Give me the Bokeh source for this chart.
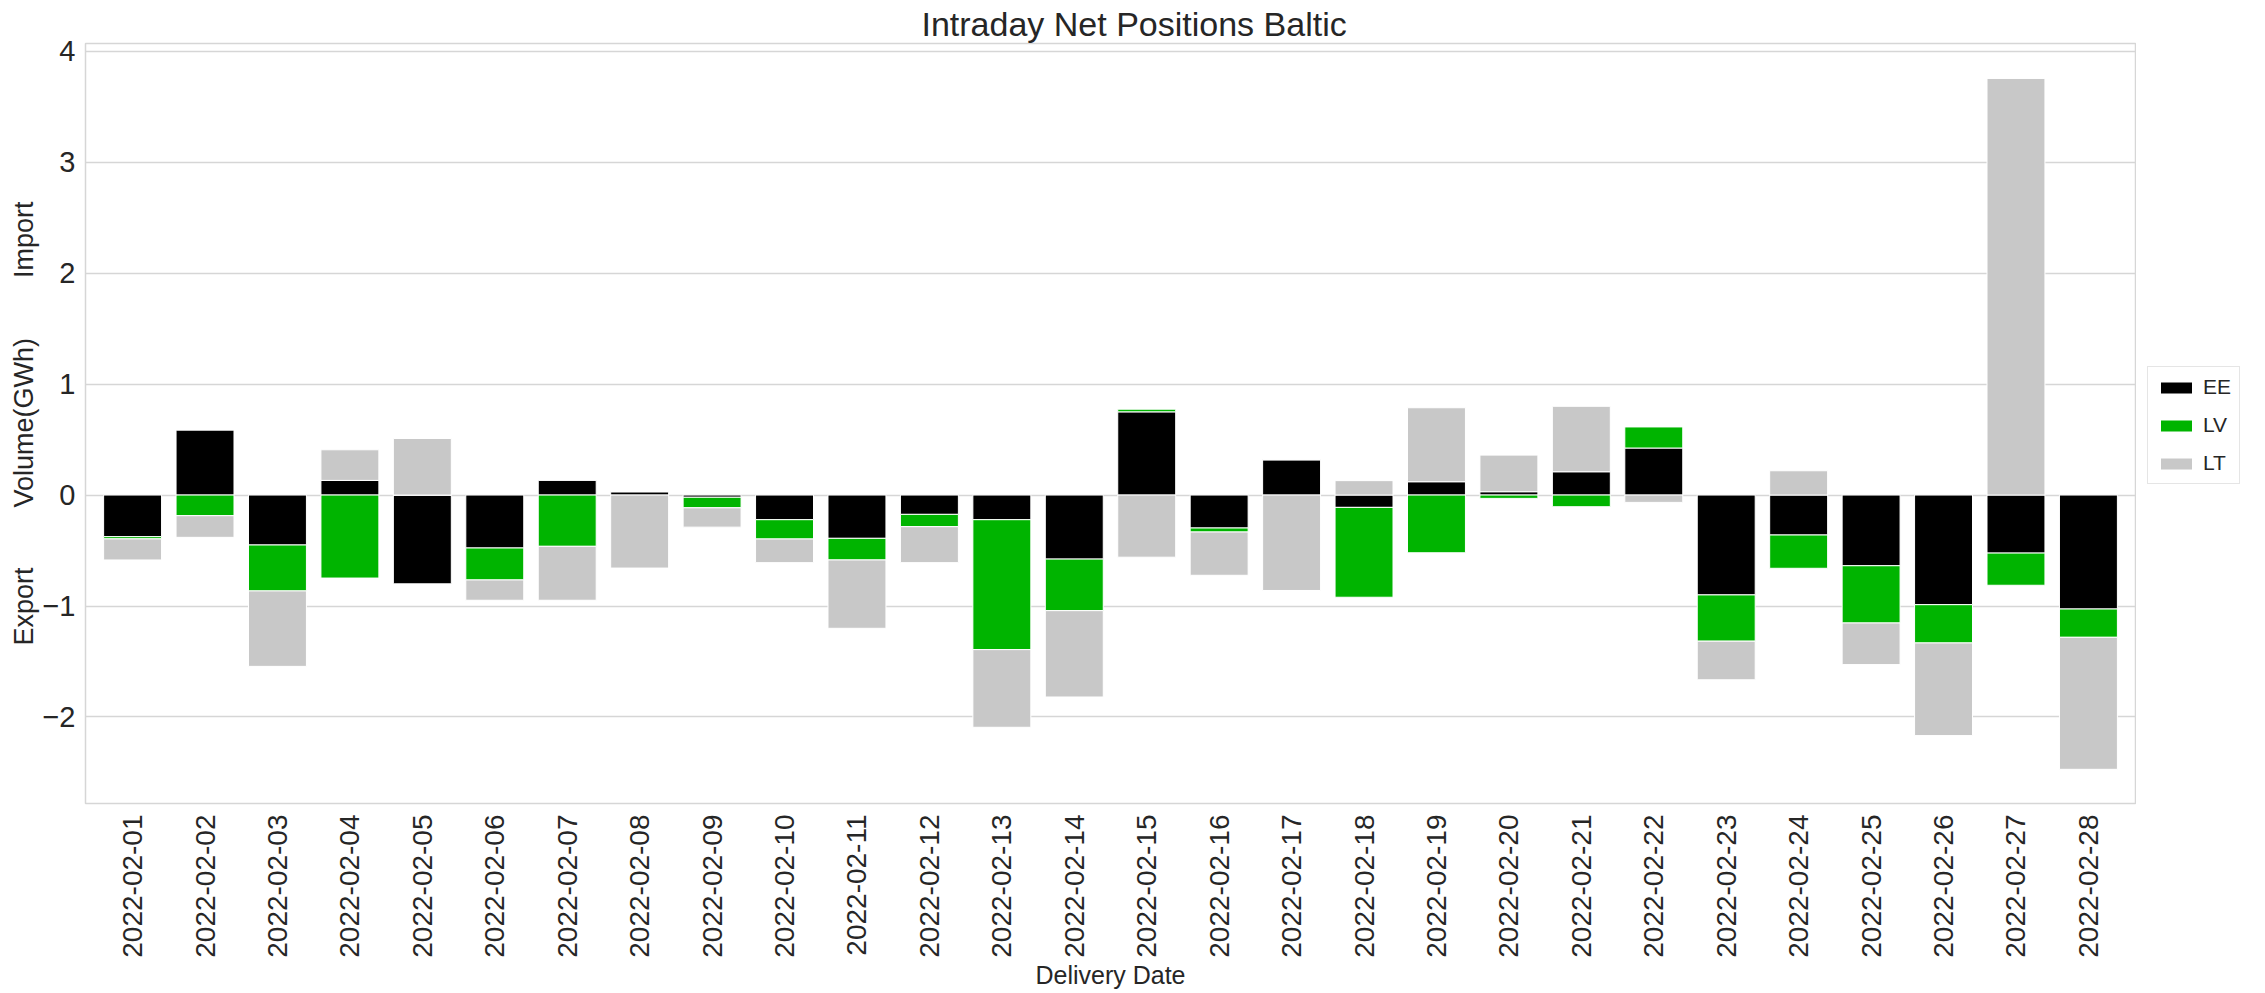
import math
from bokeh.plotting import figure
from bokeh.layouts import row
from bokeh.models import ColumnDataSource, FactorRange, Range1d, FixedTicker, Legend
from bokeh.embed import file_html
from bokeh.resources import INLINE

# ---------------- data ----------------
dates = ["2022-02-01", "2022-02-02", "2022-02-03", "2022-02-04", "2022-02-05", "2022-02-06", "2022-02-07",
         "2022-02-08", "2022-02-09", "2022-02-10", "2022-02-11", "2022-02-12", "2022-02-13", "2022-02-14",
         "2022-02-15", "2022-02-16", "2022-02-17", "2022-02-18", "2022-02-19", "2022-02-20", "2022-02-21",
         "2022-02-22", "2022-02-23", "2022-02-24", "2022-02-25", "2022-02-26", "2022-02-27", "2022-02-28"]

EE = [-0.375, 0.585, -0.45, 0.132, -0.80, -0.477, 0.132, 0.03, -0.02, -0.222, -0.39, -0.174, -0.222, -0.577,
      0.75, -0.297, 0.318, -0.111, 0.12, 0.03, 0.21, 0.424, -0.90, -0.36, -0.637, -0.988, -0.523, -1.027]
LV = [-0.02, -0.186, -0.414, -0.748, 0.0, -0.288, -0.462, 0.0, -0.095, -0.174, -0.195, -0.111, -1.171, -0.465,
      0.024, -0.036, 0.0, -0.81, -0.52, -0.03, -0.105, 0.19, -0.417, -0.30, -0.516, -0.345, -0.29, -0.255]
LT = [-0.19, -0.195, -0.68, 0.276, 0.51, -0.183, -0.486, -0.658, -0.174, -0.213, -0.616, -0.324, -0.70, -0.778,
      -0.56, -0.39, -0.86, 0.13, 0.667, 0.33, 0.59, -0.066, -0.348, 0.219, -0.375, -0.835, 3.755, -1.19]

series_names = ["EE", "LV", "LT"]
series_colors = ["#000000", "#00b400", "#c8c8c8"]
y_ticks = [-2, -1, 0, 1, 2, 3, 4]

title_text = "Intraday Net Positions Baltic"
x_label = "Delivery Date"
NB = "\u00a0" * 8
y_label = "Export" + NB + "Volume(GWh)" + NB + "Import"

FONT = "Liberation Sans"
TXT = "#262626"
GRID = "#d6d6d6"

# ---------------- main figure ----------------
p = figure(width=2136, height=993, output_backend="svg", toolbar_location=None,
           x_range=FactorRange(factors=dates, range_padding=0.15, range_padding_units="absolute"),
           y_range=Range1d(-2.78, 4.07))
p.min_border_left = 85
p.min_border_right = 1
p.min_border_top = 43
p.min_border_bottom = 190
p.background_fill_color = "white"
p.border_fill_color = "white"
p.outline_line_color = GRID
p.outline_line_width = 1.5

# title centred on the whole page (frame starts at x=85)
p.title.text = title_text
p.title.align = "left"
p.title.offset = 836
p.title.text_font = FONT
p.title.text_font_size = "34px"
p.title.text_font_style = "normal"
p.title.text_color = TXT
p.title.standoff = 2

# stacked bars (positives and negatives stacked separately)
n = len(dates)
pos = [0.0] * n
neg = [0.0] * n
sources = []
for name, vals, color in zip(series_names, [EE, LV, LT], series_colors):
    bottoms, tops = [], []
    for i, v in enumerate(vals):
        if v >= 0:
            b = pos[i]; t = b + v; pos[i] = t
        else:
            b = neg[i]; t = b + v; neg[i] = t
        bottoms.append(b); tops.append(t)
    src = ColumnDataSource(dict(date=dates, bottom=bottoms, top=tops))
    sources.append(src)
    p.vbar(x="date", width=0.8, bottom="bottom", top="top", source=src,
           fill_color=color, line_color="white", line_width=1)

# axes
p.yaxis.ticker = FixedTicker(ticks=y_ticks)
p.yaxis.major_label_overrides = {t: (("\u2212" + str(-t)) if t < 0 else str(t)) for t in y_ticks}
p.yaxis.major_label_text_font = FONT
p.yaxis.major_label_text_font_size = "29px"
p.yaxis.major_label_text_color = TXT
p.yaxis.major_label_standoff = 10
p.yaxis.axis_line_color = None
p.yaxis.major_tick_line_color = None
p.yaxis.minor_tick_line_color = None
p.yaxis.major_tick_out = 0
p.yaxis.major_tick_in = 0
p.yaxis.minor_tick_out = 0
p.yaxis.minor_tick_in = 0
p.yaxis.axis_label = y_label
p.yaxis.axis_label_text_font = FONT
p.yaxis.axis_label_text_font_size = "27px"
p.yaxis.axis_label_text_font_style = "normal"
p.yaxis.axis_label_text_color = TXT
p.yaxis.axis_label_standoff = 0

p.xaxis.major_label_orientation = math.pi / 2
p.xaxis.major_label_text_font = FONT
p.xaxis.major_label_text_font_size = "28px"
p.xaxis.major_label_text_color = TXT
p.xaxis.major_label_standoff = 11
p.xaxis.axis_line_color = None
p.xaxis.major_tick_line_color = None
p.xaxis.minor_tick_line_color = None
p.xaxis.major_tick_out = 0
p.xaxis.major_tick_in = 0
p.xaxis.minor_tick_out = 0
p.xaxis.minor_tick_in = 0
p.xaxis.axis_label = x_label
p.xaxis.axis_label_text_font = FONT
p.xaxis.axis_label_text_font_size = "25px"
p.xaxis.axis_label_text_font_style = "normal"
p.xaxis.axis_label_text_color = TXT
p.xaxis.axis_label_standoff = 0

p.xgrid.grid_line_color = None
p.ygrid.grid_line_color = GRID
p.ygrid.grid_line_width = 1.5

# ---------------- legend panel (right of the plot) ----------------
# hidden renderers on the same series sources: only the legend swatches are shown
pl = figure(width=129, height=993, output_backend="svg", toolbar_location=None,
            x_axis_location=None, y_axis_location=None, title=None,
            x_range=FactorRange(factors=dates), y_range=Range1d(-2.78, 4.07))
pl.min_border_left = 0
pl.min_border_right = 0
pl.min_border_top = 43
pl.min_border_bottom = 190
pl.outline_line_color = None
pl.background_fill_color = "white"
pl.border_fill_color = "white"
pl.xgrid.visible = False
pl.ygrid.visible = False

items = []
for name, color, src in zip(series_names, series_colors, sources):
    r = pl.vbar(x="date", width=0.8, bottom="bottom", top="top", source=src,
                fill_color=color, line_color="white", line_width=1, visible=False)
    items.append((name, [r]))

lg = Legend(items=items, location=(11, 319), orientation="vertical")
lg.border_line_color = "#cccccc"
lg.border_line_width = 1.5
lg.background_fill_color = "white"
lg.background_fill_alpha = 1.0
lg.inactive_fill_alpha = 0.0
lg.label_text_font = FONT
lg.label_text_font_size = "21px"
lg.label_text_color = TXT
lg.glyph_width = 40
lg.glyph_height = 15
lg.label_standoff = 7
lg.padding = 8
lg.spacing = 14
lg.margin = 0
pl.add_layout(lg, "center")

layout = row(p, pl)
open("out.html", "w").write(file_html(layout, INLINE))
